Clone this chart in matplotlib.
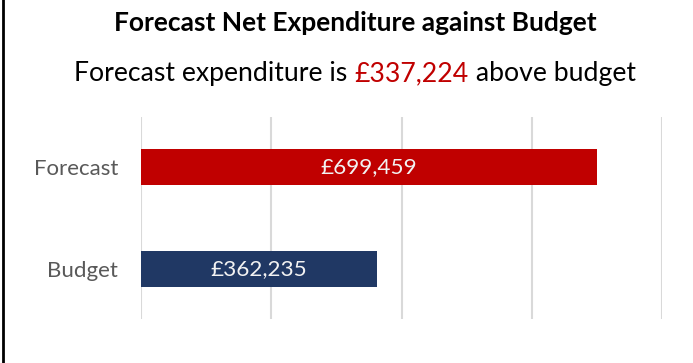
import matplotlib
matplotlib.use("Agg")
import matplotlib.pyplot as plt
from matplotlib.lines import Line2D

categories = ["Budget", "Forecast"]
values = [362235, 699459]
colors = ["#203864", "#C00000"]
xticks = [0, 200000, 400000, 600000, 800000]
title = "Forecast Net Expenditure against Budget"
difference = values[1] - values[0]

FONT = ["Lato", "DejaVu Sans"]

fig = plt.figure(figsize=(6.93, 3.63), dpi=100)
ax = fig.add_axes([141/693, 1 - 319/363, (662-141)/693, (319-117)/363])

ys = list(range(len(categories)))
ax.barh(ys, values, height=0.36, color=colors, zorder=3)
ax.set_xlim(0, xticks[-1])
ax.set_ylim(-0.49, 1.49)
ax.set_xticks(xticks)
ax.xaxis.grid(True, color="#D9D9D9", linewidth=1.5, zorder=0)
ax.set_yticks(ys)
ax.set_yticklabels(categories, fontsize=16, color="#595959", family=FONT)
ax.tick_params(axis="y", length=0, pad=16.5)
ax.tick_params(axis="x", length=0, labelbottom=False)
for s in ax.spines.values():
    s.set_visible(False)

for y, v in zip(ys, values):
    ax.text(v / 2, y, f"£{v:,}", ha="center", va="center", color="#F2F2F2",
            fontsize=16.2, family=FONT, zorder=4)

fig.text(355/693, 1 - 31/363, title, ha="center", va="baseline", fontsize=19,
         fontweight="bold", family=FONT, color="#000000")

# subtitle with coloured amount
parts = [("Forecast expenditure is ", "#000000"), (f"£{difference:,}", "#C00000"), (" above budget", "#000000")]
renderer = fig.canvas.get_renderer()
texts = []
for s, c in parts:
    t = fig.text(0, 1 - 81/363, s, ha="left", va="baseline", fontsize=19.2, family=FONT, color=c)
    texts.append(t)
widths = [t.get_window_extent(renderer).width for t in texts]
total = sum(widths)
x0 = 355 - total / 2
for t, w in zip(texts, widths):
    t.set_x(x0 / 693)
    x0 += w

fig.add_artist(Line2D([2.5/693, 2.5/693], [0, 1], color="black", linewidth=2, transform=fig.transFigure))

fig.savefig("out.png", dpi=100, facecolor="white")
